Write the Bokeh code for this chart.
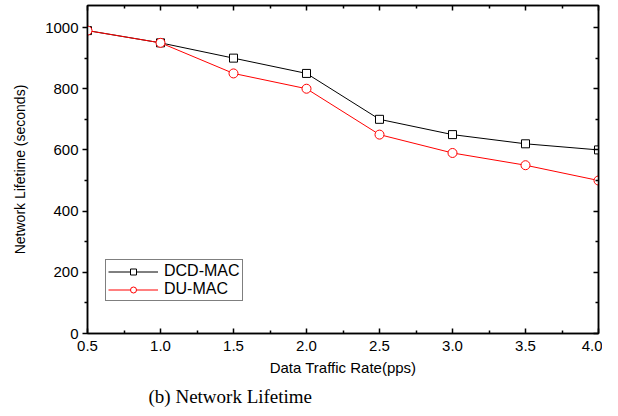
from bokeh.plotting import figure
from bokeh.models import (Range1d, LinearAxis, FixedTicker, Legend, LegendItem, Title,
                          PrintfTickFormatter, CustomJSTickFormatter)
from bokeh.embed import file_html
from bokeh.resources import INLINE

rate = [0.5, 1.0, 1.5, 2.0, 2.5, 3.0, 3.5, 4.0]
dcd_mac = [990, 950, 900, 850, 700, 650, 620, 600]
du_mac = [990, 950, 850, 800, 650, 590, 550, 500]
x_ticks = [0.5, 1.0, 1.5, 2.0, 2.5, 3.0, 3.5, 4.0]
y_ticks = [0, 200, 400, 600, 800, 1000]

FONT = "Liberation Sans"

p = figure(width=602, height=414, output_backend="svg", toolbar_location=None,
           x_range=Range1d(0.5, 4.0), y_range=Range1d(0, 1072),
           min_border_left=87, min_border_right=4, min_border_top=5, min_border_bottom=81,
           x_axis_location=None, y_axis_location=None)
p.grid.visible = False
p.outline_line_color = "black"
p.outline_line_width = 1.5
p.background_fill_color = "white"
p.border_fill_color = "white"

x_minor = [0.75 + 0.5 * i for i in range(7)]
y_minor = [100 + 200 * i for i in range(6)]

def style(ax, ticks, minor, labels=True, tin=0, tout=0, min_in=0, min_out=0):
    ax.ticker = FixedTicker(ticks=ticks, minor_ticks=minor)
    ax.axis_line_color = "black"
    ax.axis_line_width = 1.5
    ax.major_tick_line_color = "black"
    ax.major_tick_line_width = 1.5
    ax.minor_tick_line_color = "black"
    ax.minor_tick_line_width = 1.5
    ax.major_tick_in = tin
    ax.major_tick_out = tout
    ax.minor_tick_in = min_in
    ax.minor_tick_out = min_out
    ax.major_label_text_font = FONT
    ax.major_label_text_font_size = "15px"
    ax.major_label_text_color = "black"
    ax.axis_label_text_font = FONT
    ax.axis_label_text_font_size = "15px"
    ax.axis_label_text_font_style = "normal"
    ax.axis_label_text_color = "black"
    if not labels:
        ax.formatter = CustomJSTickFormatter(code="return '';")
        ax.major_label_text_font_size = "0px"
        ax.major_label_standoff = 0

bottom = LinearAxis(axis_label="Data Traffic Rate(pps)")
style(bottom, x_ticks, x_minor, tin=5, min_in=3)
bottom.formatter = PrintfTickFormatter(format="%.1f")
bottom.major_label_standoff = 7
bottom.axis_label_standoff = 5
p.add_layout(bottom, "below")

left = LinearAxis(axis_label="Network Lifetime (seconds)")
style(left, y_ticks, y_minor, tout=5, min_out=3)
left.axis_label_text_font_size = "14px"
left.major_label_standoff = 4
left.axis_label_standoff = 14
p.add_layout(left, "left")

top = LinearAxis()
style(top, x_ticks, x_minor, labels=False, tin=5, min_in=3)
p.add_layout(top, "above")

right = LinearAxis()
style(right, y_ticks, y_minor, labels=False, tin=5, min_in=3)
p.add_layout(right, "right")

l1 = p.line(rate, dcd_mac, line_color="black", line_width=1)
m1 = p.scatter(rate, dcd_mac, marker="square", size=8, line_color="black",
               fill_color="white", line_width=1)
l2 = p.line(rate, du_mac, line_color="#ff0000", line_width=1)
m2 = p.scatter(rate, du_mac, marker="circle", size=9, line_color="#ff0000",
               fill_color="white", line_width=1)

legend = Legend(items=[LegendItem(label="DCD-MAC", renderers=[l1, m1]),
                       LegendItem(label="DU-MAC", renderers=[l2, m2])],
                location=(18, 32))
legend.label_text_font = FONT
legend.label_text_font_size = "16px"
legend.label_text_color = "black"
legend.glyph_width = 50
legend.glyph_height = 15
legend.label_height = 15
legend.label_standoff = 6
legend.spacing = 0
legend.padding = 2
legend.margin = 0
legend.border_line_color = "black"
legend.border_line_width = 1
legend.background_fill_alpha = 1
p.add_layout(legend, "center")

cap = Title(text="(b) Network Lifetime", align="left", offset=61,
            text_font="Liberation Serif", text_font_size="19px",
            text_font_style="normal", text_color="black", standoff=10)
p.add_layout(cap, "below")

open("out.html", "w").write(file_html(p, INLINE))
